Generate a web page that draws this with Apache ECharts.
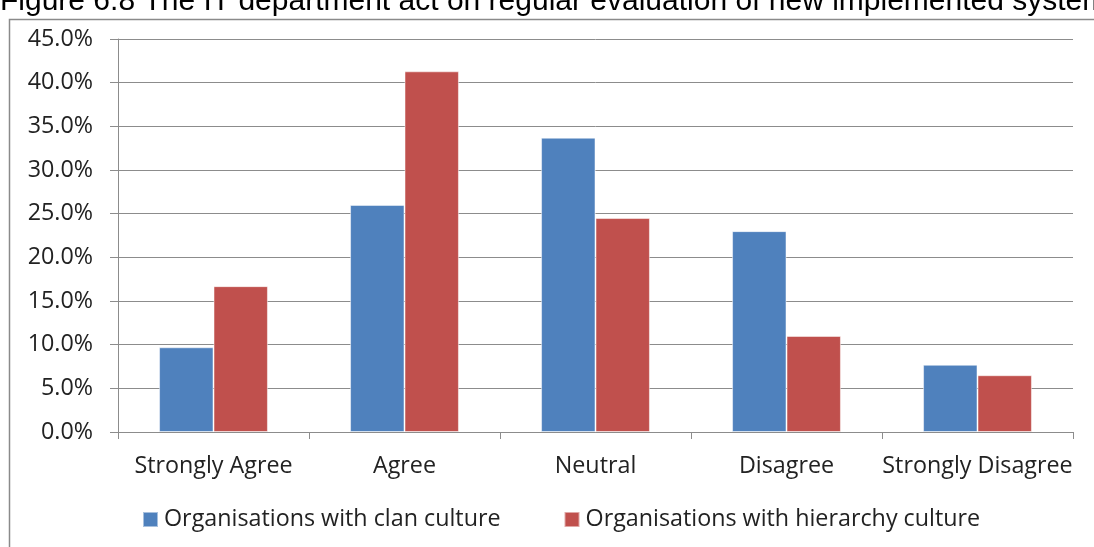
<!DOCTYPE html>
<html>
<head>
<meta charset="utf-8">
<style>
  html, body { margin: 0; padding: 0; background: #fff; }
  #chart { width: 1094px; height: 547px; }
</style>
<script src="https://cdn.jsdelivr.net/npm/echarts@6/dist/echarts.min.js"></script>
</head>
<body>
<div id="chart"></div>
<script>
// Survey responses by organisational culture (percent of respondents)
const categories = ['Strongly Agree', 'Agree', 'Neutral', 'Disagree', 'Strongly Disagree'];
const clanCulture = [9.7, 26.0, 33.7, 23.0, 7.7];
const hierarchyCulture = [16.7, 41.3, 24.5, 11.0, 6.5];
const seriesNames = ['Organisations with clan culture', 'Organisations with hierarchy culture'];
const titleText = 'Figure 6.8 The IT department act on regular evaluation of new implemented system';

const FONT = '"Open Sans", Lato, sans-serif';
const FONT_SIZE = 23.3;
const GRID_GRAY = '#8c8c8c';

const chart = echarts.init(document.getElementById('chart'), null, { renderer: 'canvas' });

chart.setOption({
  backgroundColor: '#ffffff',
  animation: false,
  color: ['#4F81BD', '#C0504D'],
  graphic: [
    {
      type: 'text',
      left: 0,
      top: -13,
      style: {
        text: titleText,
        font: '30px "Liberation Sans", Arial, sans-serif',
        fill: '#000'
      }
    },
    {
      type: 'polyline',
      shape: { points: [[9.5, 547], [9.5, 19.5], [1094, 19.5]] },
      style: { stroke: '#8a8a8a', lineWidth: 1.5, fill: null }
    }
  ],
  grid: { left: 118, right: 21, top: 39, bottom: 115 },
  legend: {
    bottom: 16,
    left: 142,
    padding: 0,
    itemWidth: 15,
    itemHeight: 15,
    itemGap: 63,
    icon: 'rect',
    textStyle: { fontFamily: FONT, fontSize: FONT_SIZE, color: '#222', padding: [0, 0, 0, 1] },
    data: seriesNames
  },
  xAxis: {
    type: 'category',
    data: categories,
    boundaryGap: true,
    axisLine: { lineStyle: { color: GRID_GRAY, width: 1 } },
    axisTick: { show: true, length: 7, alignWithLabel: false, lineStyle: { color: GRID_GRAY } },
    axisLabel: { interval: 0, margin: 23, fontFamily: FONT, fontSize: FONT_SIZE, color: '#222' }
  },
  yAxis: {
    type: 'value',
    min: 0,
    max: 45,
    interval: 5,
    axisLine: { show: true, lineStyle: { color: GRID_GRAY, width: 1 } },
    axisTick: { show: true, length: 8, lineStyle: { color: GRID_GRAY } },
    splitLine: { show: true, lineStyle: { color: GRID_GRAY, width: 1 } },
    axisLabel: {
      margin: 25,
      fontFamily: FONT,
      fontSize: FONT_SIZE,
      color: '#222',
      formatter: v => v.toFixed(1) + '%'
    }
  },
  series: [
    {
      name: seriesNames[0],
      type: 'bar',
      data: clanCulture,
      barGap: '0%',
      barCategoryGap: '43%',
      itemStyle: { borderColor: 'rgba(255,255,255,0.5)', borderWidth: 1 }
    },
    {
      name: seriesNames[1],
      type: 'bar',
      data: hierarchyCulture,
      barGap: '0%',
      barCategoryGap: '43%',
      itemStyle: { borderColor: 'rgba(255,255,255,0.5)', borderWidth: 1 }
    }
  ]
});
</script>
</body>
</html>
